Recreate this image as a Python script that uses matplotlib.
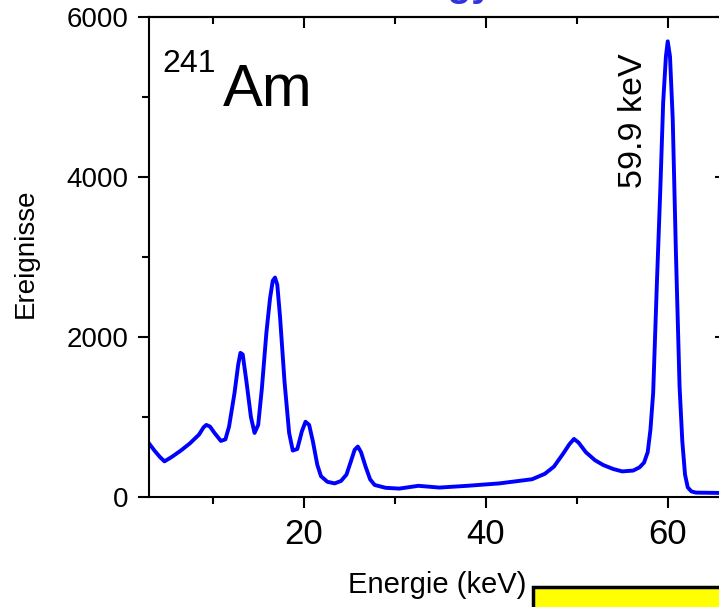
import matplotlib
matplotlib.use("Agg")
import matplotlib.pyplot as plt
import matplotlib.patches as patches
from matplotlib.ticker import MultipleLocator

plt.rcParams['font.family'] = ['Liberation Sans', 'DejaVu Sans']

# Am-241 spectrum
energie = [3.0, 3.6, 4.2, 4.7, 5.5, 6.5, 7.5, 8.5, 9.0, 9.3, 9.7, 10.2, 10.9,
           11.4, 11.8, 12.4, 12.8, 13.05, 13.3, 13.7, 14.2, 14.6, 15.0, 15.4,
           15.9, 16.3, 16.6, 16.85, 17.1, 17.4, 17.9, 18.4, 18.8, 19.3, 19.8,
           20.2, 20.6, 21.0, 21.5, 21.9, 22.6, 23.4, 24.1, 24.7, 25.2, 25.6,
           25.95, 26.3, 26.8, 27.3, 27.8, 29.0, 30.5, 32.6, 34.9, 38.0, 41.5,
           45.1, 46.5, 47.5, 48.5, 49.2, 49.7, 50.2, 51.0, 52.0, 52.9, 54.0,
           55.0, 56.2, 56.9, 57.4, 57.8, 58.1, 58.4, 58.8, 59.2, 59.5, 59.8,
           60.0, 60.25, 60.55, 60.9, 61.3, 61.6, 61.9, 62.2, 62.6, 63.1, 66.4]
ereignisse = [670, 580, 500, 445, 500, 580, 670, 780, 870, 900, 880, 800, 700,
              720, 880, 1300, 1650, 1800, 1780, 1450, 1000, 800, 900, 1350,
              2050, 2480, 2700, 2740, 2650, 2250, 1430, 800, 580, 600, 820,
              940, 900, 700, 400, 260, 190, 170, 200, 280, 450, 590,
              630, 560, 380, 220, 150, 115, 105, 140, 118, 140, 170,
              222, 290, 380, 540, 660, 725, 680, 560, 460, 400, 350,
              320, 330, 370, 430, 560, 840, 1300, 2640, 3890, 4930, 5500,
              5690, 5500, 4720, 3050, 1380, 700, 280, 120, 70, 55, 50]

fig = plt.figure(figsize=(7.19, 6.07), dpi=100)
ax = fig.add_axes([0.2072, 0.1812, 0.8025, 0.7916])

ax.plot(energie, ereignisse, color='#0000ff', lw=2.8, solid_joinstyle='round')
ax.set_xlim(3, 66.4)
ax.set_ylim(0, 6000)

for s in ax.spines.values():
    s.set_linewidth(1.5)

ax.xaxis.set_major_locator(MultipleLocator(20))
ax.xaxis.set_minor_locator(MultipleLocator(10))
ax.yaxis.set_major_locator(MultipleLocator(2000))
ax.yaxis.set_minor_locator(MultipleLocator(1000))
ax.tick_params(which='major', length=8, width=1.5, direction='out')
ax.tick_params(which='minor', length=5, width=1.5, direction='out')
ax.tick_params(axis='x', labelsize=25, pad=7)
ax.tick_params(axis='y', labelsize=20, pad=7)

# inward ticks on top and right
top = ax.secondary_xaxis('top')
top.xaxis.set_major_locator(MultipleLocator(20))
top.xaxis.set_minor_locator(MultipleLocator(10))
top.tick_params(which='major', length=8, width=1.5, direction='in', labeltop=False)
top.tick_params(which='minor', length=5, width=1.5, direction='in')
top.spines['top'].set_linewidth(1.5)
right = ax.secondary_yaxis('right')
right.yaxis.set_major_locator(MultipleLocator(2000))
right.yaxis.set_minor_locator(MultipleLocator(1000))
right.tick_params(which='major', length=8, width=1.5, direction='in', labelright=False)
right.tick_params(which='minor', length=5, width=1.5, direction='in')

ax.set_xlabel('Energie (keV)', fontsize=21)
ax.xaxis.set_label_coords(0.5, -0.154)
ax.set_ylabel('Ereignisse', fontsize=20)
ax.yaxis.set_label_coords(-0.213, 0.508)
ax.yaxis.label.set_verticalalignment('center')

ax.text(0.0237, 0.884, '241', transform=ax.transAxes, fontsize=23, va='baseline', ha='left')
ax.text(0.1277, 0.813, 'Am', transform=ax.transAxes, fontsize=43, va='baseline', ha='left')
ax.text(0.854, 0.644, '59.9 keV', transform=ax.transAxes, fontsize=24.5, rotation=90,
        rotation_mode='anchor', ha='left', va='baseline')

# title cut off at the top edge, only descenders show
fig.text(493 / 719, 1.0066, 'Energy', color='#3333dd', fontsize=28, fontweight='bold',
         ha='right', va='baseline')

# yellow box at the bottom right, cut by the edge
box = patches.Rectangle((532.5 / 719, -0.1), 0.4, 0.1 + 20.5 / 607, transform=fig.transFigure,
                        facecolor='#ffff00', edgecolor='black', lw=2.5, clip_on=False)
fig.add_artist(box)

fig.savefig('out.png', dpi=100)
